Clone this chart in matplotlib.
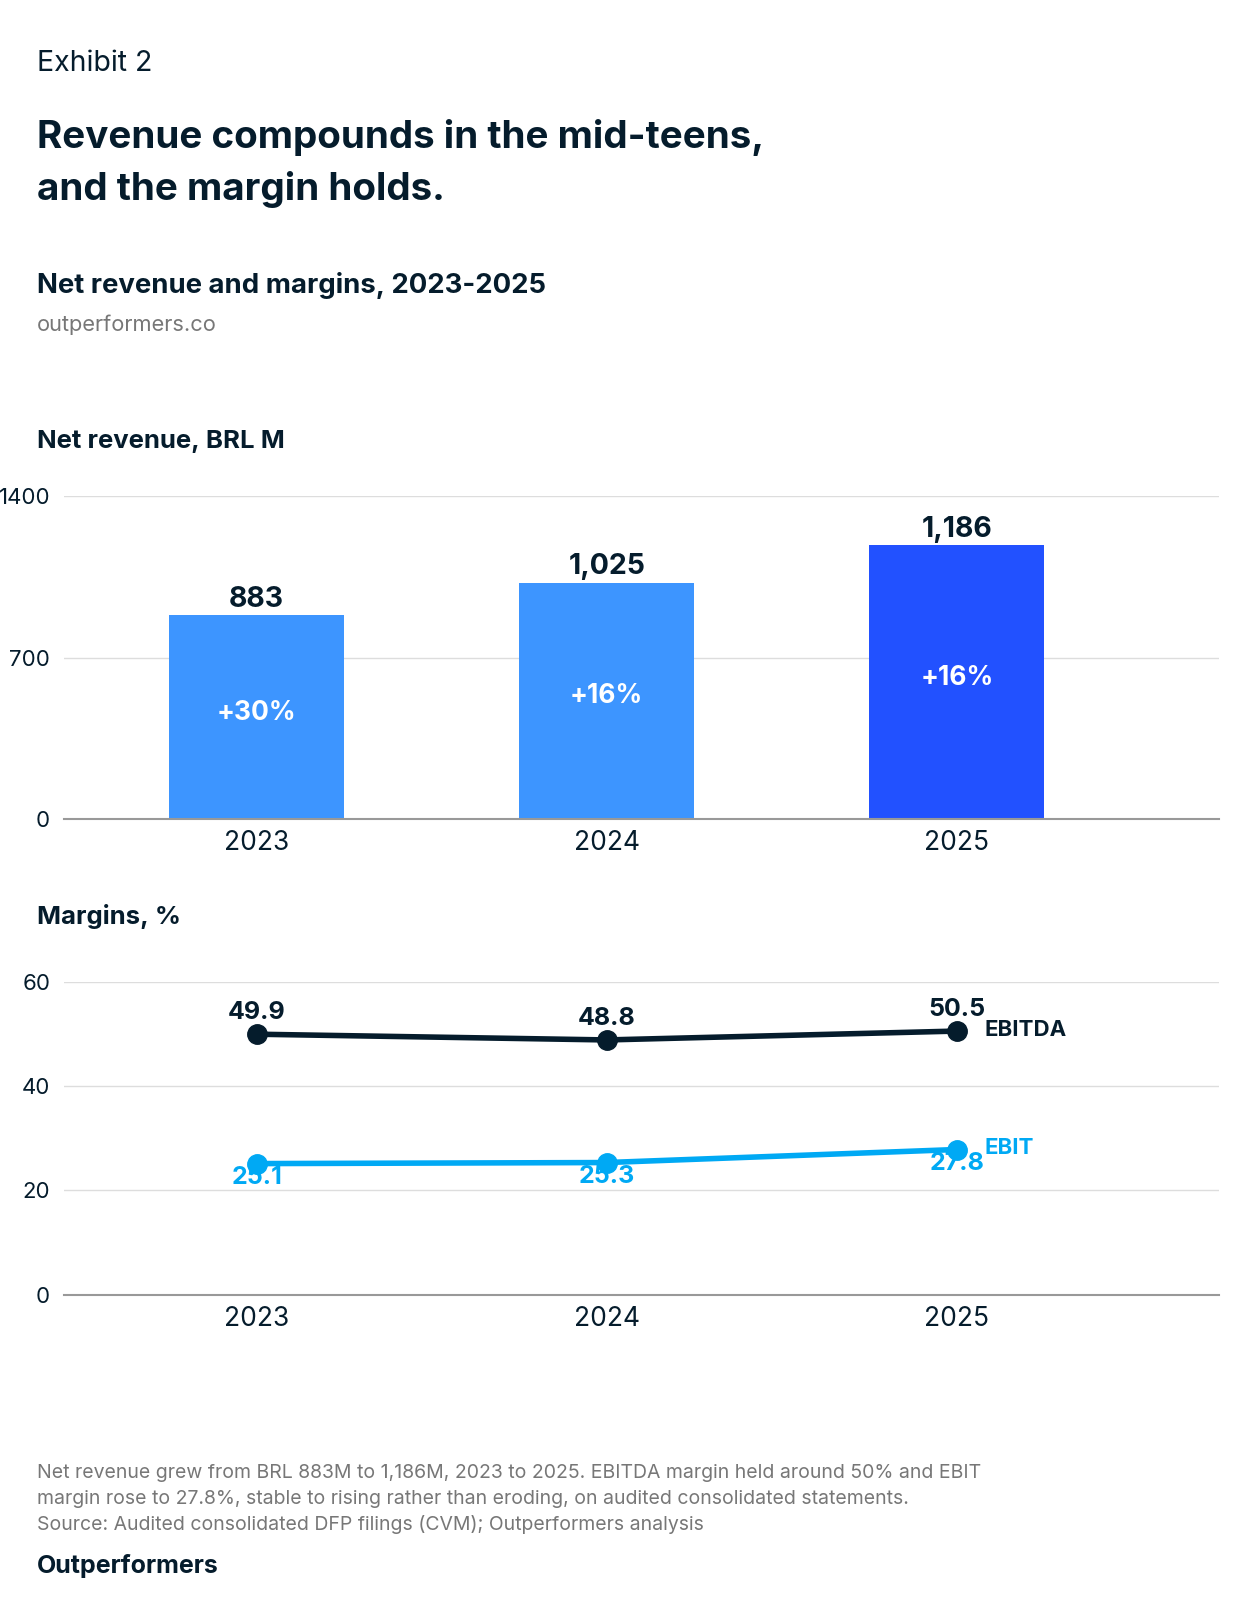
import matplotlib.pyplot as plt

plt.rcParams['font.family'] = ['Inter', 'DejaVu Sans']

years = ['2023', '2024', '2025']
revenue = [883, 1025, 1186]
revenue_labels = ['883', '1,025', '1,186']
growth = ['+30%', '+16%', '+16%']
ebitda = [49.9, 48.8, 50.5]
ebit = [25.1, 25.3, 27.8]

dark = '#051C2C'
cyan = '#00A9F4'
bar_colors = ['#3D95FF', '#3D95FF', '#2251FF']

fig = plt.figure(figsize=(12.4, 16.2), dpi=100)
W, H = 1200, 1568

def fy(p):
    return 1 - p / H

fig.text(0.03, fy(61), 'Exhibit 2', fontsize=20.5, color=dark, va='center')
fig.text(0.03, fy(133), 'Revenue compounds in the mid-teens,', fontsize=27.8, weight='bold', color=dark, va='center')
fig.text(0.03, fy(183), 'and the margin holds.', fontsize=27.8, weight='bold', color=dark, va='center')
fig.text(0.03, fy(276), 'Net revenue and margins, 2023-2025', fontsize=19.8, weight='bold', color=dark, va='center')
fig.text(0.03, fy(314), 'outperformers.co', fontsize=15.7, color='#777777', va='center')
fig.text(0.03, fy(427), 'Net revenue, BRL M', fontsize=18.5, weight='bold', color=dark, va='center')
fig.text(0.03, fy(887), 'Margins, %', fontsize=18.5, weight='bold', color=dark, va='center')
notes = ['Net revenue grew from BRL 883M to 1,186M, 2023 to 2025. EBITDA margin held around 50% and EBIT',
         'margin rose to 27.8%, stable to rising rather than eroding, on audited consolidated statements.',
         'Source: Audited consolidated DFP filings (CVM); Outperformers analysis']
for i, n in enumerate(notes):
    fig.text(0.03, fy(1426 + 25 * i), n, fontsize=14, color='#777777', va='center')
fig.text(0.03, fy(1516), 'Outperformers', fontsize=18, weight='bold', color=dark, va='center')

left, right = 62 / W, 1180 / W
x = range(len(years))

# bars
ax = fig.add_axes([left, fy(793), right - left, (793 - 480) / H])
ax.bar(x, revenue, width=0.5, color=bar_colors, zorder=2)
for i, v in enumerate(revenue):
    ax.text(i, v + 12, revenue_labels[i], ha='center', va='bottom', fontsize=20.5, weight='bold', color=dark)
    ax.text(i, v / 2 + 20, growth[i], ha='center', va='center', fontsize=19, weight='bold', color='white')
ax.set_ylim(0, 1400)
ax.set_yticks([0, 700, 1400])
ax.set_xlim(-0.55, 2.75)

# lines
ax2 = fig.add_axes([left, fy(1253), right - left, (1253 - 950) / H])
ax2.plot(x, ebitda, color=dark, lw=4, marker='o', ms=14, zorder=3)
ax2.plot(x, ebit, color=cyan, lw=4, marker='o', ms=14, zorder=3)
for i in x:
    ax2.text(i, ebitda[i] + 2.0, f'{ebitda[i]}', ha='center', va='bottom', fontsize=18, weight='bold', color=dark)
    ax2.text(i, ebit[i] - 0.5, f'{ebit[i]}', ha='center', va='top', fontsize=18, weight='bold', color=cyan)
ax2.text(2.08, ebitda[2] + 0.3, 'EBITDA', fontsize=16, weight='bold', color=dark, va='center')
ax2.text(2.08, ebit[2] + 0.3, 'EBIT', fontsize=16, weight='bold', color=cyan, va='center')
ax2.set_ylim(0, 60)
ax2.set_yticks([0, 20, 40, 60])
ax2.set_xlim(-0.55, 2.75)

for a in (ax, ax2):
    a.set_xticks(list(x))
    a.set_xticklabels(years)
    a.grid(axis='y', color='#dddddd', lw=1, zorder=0)
    a.set_axisbelow(True)
    for s in ['top', 'right', 'left']:
        a.spines[s].set_visible(False)
    a.spines['bottom'].set_color('#999999')
    a.spines['bottom'].set_linewidth(1.5)
    a.tick_params(axis='x', length=0, labelsize=19, colors=dark, pad=8)
    a.tick_params(axis='y', length=0, labelsize=16, colors=dark, pad=10)
    for t in a.get_yticklabels():
        t.set_horizontalalignment('right')

fig.savefig('out.png', dpi=100)
